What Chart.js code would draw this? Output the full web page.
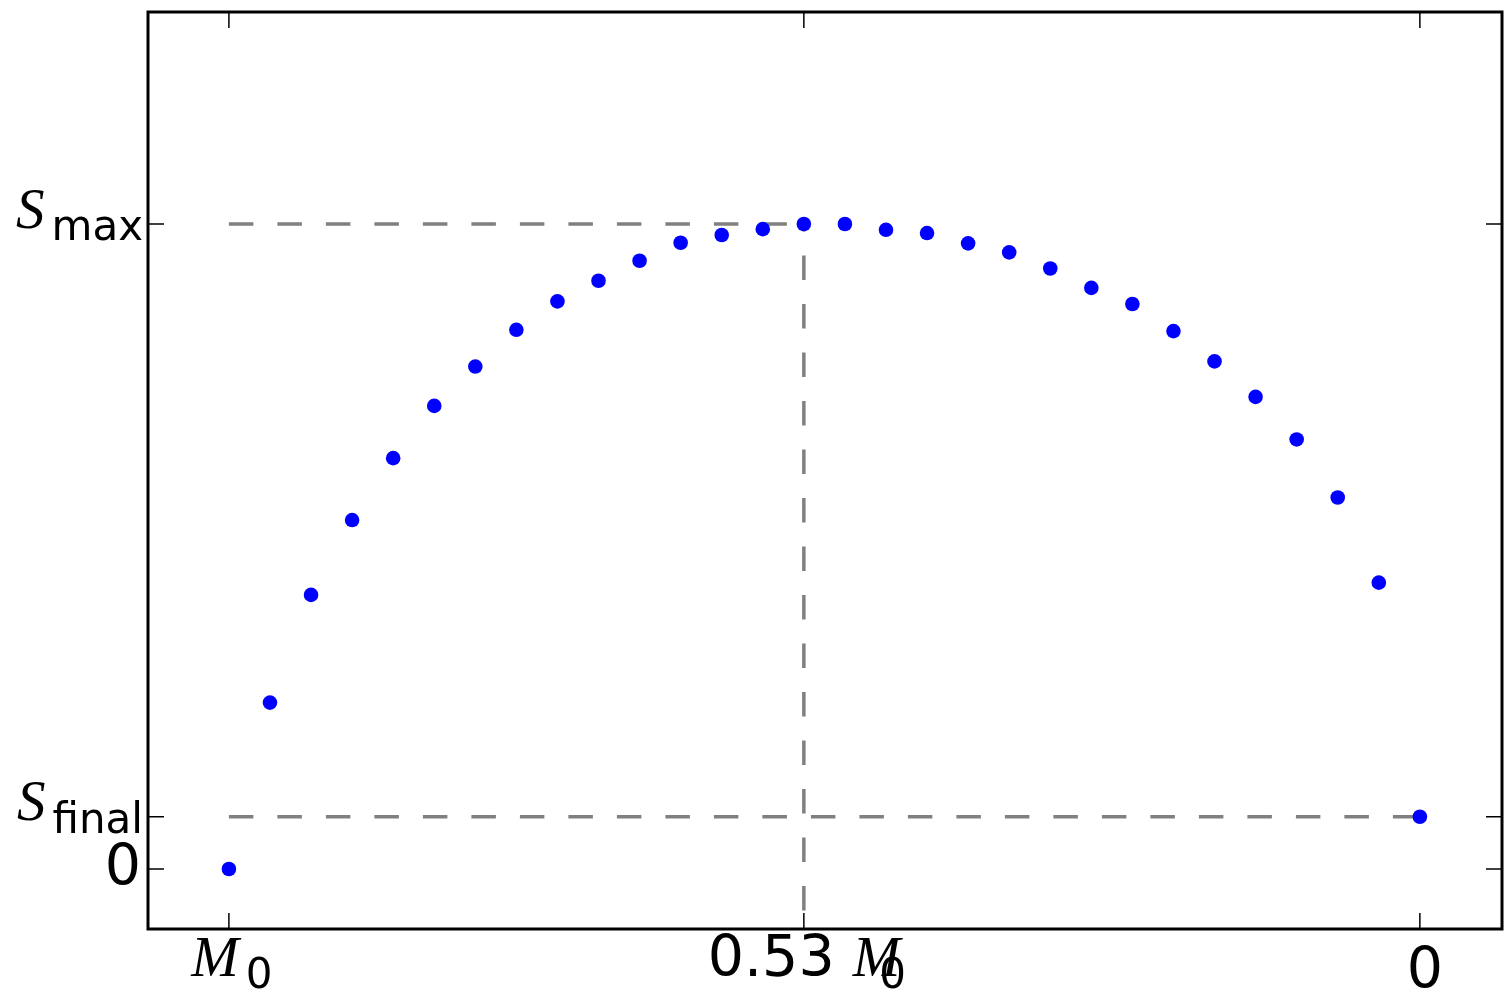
<!DOCTYPE html>
<html>
<head>
<meta charset="utf-8">
<script src="https://cdn.jsdelivr.net/npm/chart.js@4.4.0/dist/chart.umd.min.js"></script>
<style>
  html, body { margin: 0; padding: 0; background: #fff; overflow: hidden; }
  #entropy-chart { display: block; }
</style>
</head>
<body>
<canvas id="entropy-chart" width="1504" height="993"></canvas>
<script>
// step along the mass sequence, M0 on the left down to 0 on the right
var steps = [0, 1, 2, 3, 4, 5, 6, 7, 8, 9, 10, 11, 12, 13, 14,
             15, 16, 17, 18, 19, 20, 21, 22, 23, 24, 25, 26, 27, 28, 29];
// entropy in units of S_max
var entropy = [0, 0.258, 0.425, 0.541, 0.637, 0.718, 0.779, 0.836, 0.880, 0.912,
               0.943, 0.971, 0.983, 0.992, 1.000, 1.000, 0.991, 0.986, 0.970, 0.956,
               0.931, 0.901, 0.876, 0.834, 0.787, 0.732, 0.666, 0.576, 0.444, 0.081];

var sMax = 1.0;
var sFinal = 0.081;
var peakStep = 14;

var xTickValues = [0, 14, 29];
var xTickLabels = ['M_0', '0.53 M_0', '0'];
var yTickValues = [0, sFinal, sMax];
var yTickLabels = ['0', 'S_final', 'S_max'];

var yMin = -0.093, yMax = 1.3287;

var SANS = '57px "DejaVu Sans"';
var ITAL = 'italic 57px "Liberation Serif"';
var SUB = '42px "DejaVu Sans"';

// 'lead + italic symbol + subscript', e.g. '0.53 M_0' -> '0.53 ', 'M', '0'
function parseLabel(s) {
  var i = s.indexOf('_');
  if (i < 0) return { lead: s, sym: '', sub: '' };
  var head = s.slice(0, i);
  return { lead: head.slice(0, -1), sym: head.slice(-1), sub: s.slice(i + 1) };
}

// matplotlib squeezed the subscript into the M on this one
var subKern = { '0.53 M_0': -28 };

function widthOf(ctx, font, txt) {
  if (!txt) return 0;
  ctx.font = font;
  return ctx.measureText(txt).width;
}

var frameAndLabels = {
  id: 'frameAndLabels',
  afterDraw: function(chart) {
    var ctx = chart.ctx, a = chart.chartArea;
    var xs = chart.scales.x, ys = chart.scales.y;
    var tl = 16;
    ctx.save();

    // inward ticks on every side
    ctx.strokeStyle = '#000';
    ctx.lineWidth = 1.5;
    ctx.beginPath();
    xTickValues.forEach(function(v) {
      var px = xs.getPixelForValue(v);
      ctx.moveTo(px, a.top); ctx.lineTo(px, a.top + tl);
      ctx.moveTo(px, a.bottom); ctx.lineTo(px, a.bottom - tl);
    });
    yTickValues.forEach(function(v) {
      var py = ys.getPixelForValue(v);
      ctx.moveTo(a.left, py); ctx.lineTo(a.left + tl, py);
      ctx.moveTo(a.right, py); ctx.lineTo(a.right - tl, py);
    });
    ctx.stroke();

    ctx.lineWidth = 3;
    ctx.strokeRect(a.left, a.top, a.right - a.left, a.bottom - a.top);

    ctx.fillStyle = '#000';
    ctx.textBaseline = 'alphabetic';
    ctx.textAlign = 'left';

    // x tick labels
    xTickValues.forEach(function(v, k) {
      var lab = xTickLabels[k], p = parseLabel(lab);
      var px = xs.getPixelForValue(v);
      if (!p.sym) {
        var w0 = widthOf(ctx, SANS, p.lead);
        ctx.font = SANS;
        ctx.fillText(p.lead, px - w0 / 2 + 5, a.bottom + 58.5);
        return;
      }
      var wl = widthOf(ctx, SANS, p.lead);
      var ws = widthOf(ctx, ITAL, p.sym);
      var wsub = widthOf(ctx, SUB, p.sub);
      var gap = 7 + (subKern[lab] || 0);
      var x0 = px - (wl + ws + gap + wsub) / 2 + 3;
      ctx.font = SANS; ctx.fillText(p.lead, x0, a.bottom + 46.5);
      ctx.font = ITAL; ctx.fillText(p.sym, x0 + wl, a.bottom + 46.5);
      ctx.font = SUB; ctx.fillText(p.sub, x0 + wl + ws + gap, a.bottom + 59);
    });

    // y tick labels
    yTickValues.forEach(function(v, k) {
      var lab = yTickLabels[k], p = parseLabel(lab);
      var py = ys.getPixelForValue(v);
      if (!p.sym) {
        var w0 = widthOf(ctx, SANS, p.lead);
        ctx.font = SANS;
        ctx.fillText(p.lead, a.left - 7 - w0, py + 16);
        return;
      }
      var ws = widthOf(ctx, ITAL, p.sym);
      var wsub = widthOf(ctx, SUB, p.sub);
      var right = a.left - 5;
      ctx.font = SUB; ctx.fillText(p.sub, right - wsub, py + 16);
      ctx.font = ITAL; ctx.fillText(p.sym, right - wsub - 7 - ws, py + 3.5);
    });

    ctx.restore();
  }
};

var dashStyle = {
  showLine: true,
  borderColor: '#808080',
  borderWidth: 3.5,
  borderDash: [24.5, 24],
  pointRadius: 0,
  fill: false,
  order: 1
};

var chartData = {
  datasets: [
    {
      label: 'S',
      data: steps.map(function(s, i) { return { x: s, y: entropy[i] }; }),
      backgroundColor: '#0000ff',
      borderWidth: 0,
      pointRadius: 7.3,
      pointHoverRadius: 7.3,
      order: 0
    },
    Object.assign({ label: 'S max level',
      data: [{ x: steps[0], y: sMax }, { x: peakStep, y: sMax }] }, dashStyle),
    Object.assign({ label: 'S final level',
      data: [{ x: steps[0], y: sFinal }, { x: steps[steps.length - 1], y: sFinal }] }, dashStyle),
    Object.assign({ label: 'peak',
      data: [{ x: peakStep, y: sMax }, { x: peakStep, y: yMin }],
      borderDashOffset: 17 }, dashStyle)
  ]
};

new Chart(document.getElementById('entropy-chart').getContext('2d'), {
  type: 'scatter',
  data: chartData,
  options: {
    responsive: false,
    maintainAspectRatio: false,
    animation: false,
    devicePixelRatio: 1,
    layout: {
      autoPadding: false,
      padding: { left: 148, right: 2, top: 12, bottom: 64 }
    },
    plugins: {
      legend: { display: false },
      tooltip: { enabled: false }
    },
    scales: {
      x: { type: 'linear', display: false, min: -1.97, max: 31 },
      y: { type: 'linear', display: false, min: yMin, max: yMax }
    }
  },
  plugins: [frameAndLabels]
});
</script>
</body>
</html>
